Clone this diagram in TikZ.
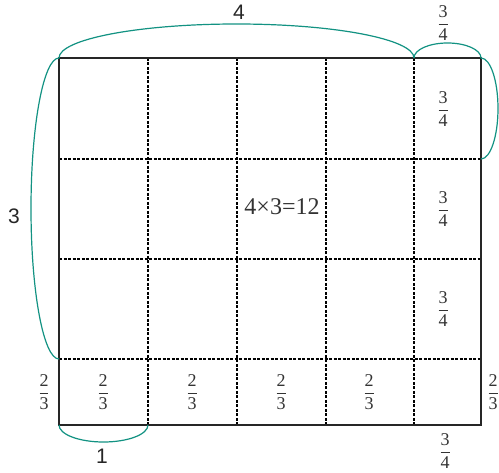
\documentclass[tikz,border=0pt]{standalone}
\usepackage{amsmath}
\usepackage{fontspec}
\setmainfont{Liberation Serif}
\newfontfamily\serf{Liberation Serif}
\newfontfamily\labfont{Liberation Sans}
\definecolor{brace}{RGB}{18,146,130}
\newcommand{\fr}[2]{$\dfrac{\text{\serf #1}}{\text{\serf #2}}$}

\begin{document}
\begin{tikzpicture}[x=1pt,y=-1pt,
  border/.style={black!85,line width=1.2pt},
  cut/.style={black,line width=1.1pt,dash pattern=on 3pt off 1.5pt},
  br/.style={brace,line width=1.2pt},
  fr/.style={font=\serf\fontsize{18}{20}\selectfont,text=black!80,inner sep=0pt},
  num/.style={font=\labfont\fontsize{21}{24}\selectfont,text=black!85,inner sep=0pt}]
\useasboundingbox (0,0) rectangle (499,473);

% grid
\foreach \x in {148,237,326,414} \draw[cut] (\x,58) -- (\x,425);
\foreach \y in {159,259,359} \draw[cut] (59,\y) -- (481,\y);
\draw[border] (59,58) rectangle (481,425);

% braces
\draw[br] (59,58) arc[start angle=180,end angle=0,x radius=177.5pt,y radius=34pt];
\draw[br] (59,58) arc[start angle=90,end angle=270,x radius=28pt,y radius=150.5pt];
\draw[br] (414,58) arc[start angle=180,end angle=0,x radius=33.5pt,y radius=15pt];
\draw[br] (481,58) arc[start angle=90,end angle=-90,x radius=17pt,y radius=50.5pt];
\draw[br] (59,425) arc[start angle=180,end angle=360,x radius=44.5pt,y radius=17pt];

% labels
\node[num] (len) at (239,12) {4};
\node[num] (hgt) at (14,216) {3};
\node[num] (one) at (102,456) {1};
\node[fr] (top) at (443,23) {\fr{3}{4}};
\node[fr] (bot) at (445,451) {\fr{3}{4}};
\foreach \y [count=\i] in {109,209,309} \node[fr] (q\i) at (443,\y) {\fr{3}{4}};
\foreach \x [count=\i] in {44,103,192,281,369,493} \node[fr] (t\i) at (\x,392) {\fr{2}{3}};
\node[font=\serf\fontsize{24}{26}\selectfont,text=black!80,inner sep=0pt] (area) at (282,207) {4×3=12};
\end{tikzpicture}
\end{document}
